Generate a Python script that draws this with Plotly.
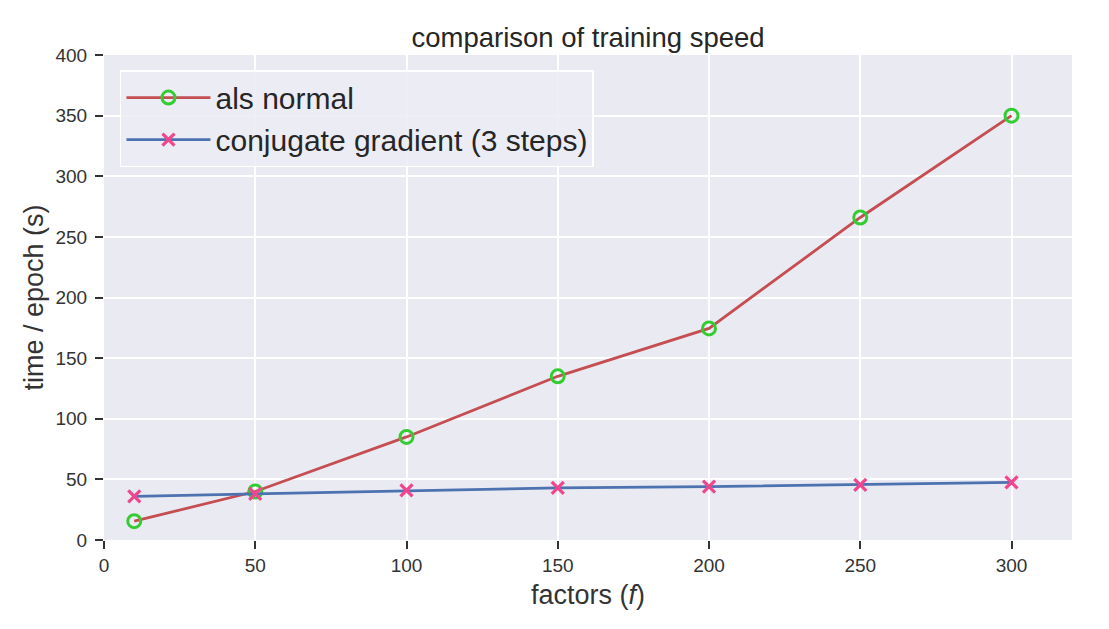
import plotly.graph_objects as go

factors = [10, 50, 100, 150, 200, 250, 300]
als_normal = [15.5, 40, 85, 135, 174.5, 266, 350]
conj_grad = [36, 38, 41, 43, 44, 45.5, 47.5]

x_ticks = [0, 50, 100, 150, 200, 250, 300]
y_ticks = [0, 50, 100, 150, 200, 250, 300, 350, 400]

FONT = "Arial, Liberation Sans, sans-serif"

fig = go.Figure()
fig.add_trace(go.Scatter(
    x=factors, y=als_normal, mode="lines+markers", name="als normal",
    line=dict(color="#C44E52", width=2.8),
    marker=dict(symbol="circle-open", size=13, color="#33CC33", line=dict(width=3, color="#33CC33")),
))
fig.add_trace(go.Scatter(
    x=factors, y=conj_grad, mode="lines+markers", name="conjugate gradient (3 steps)",
    line=dict(color="#4C72B0", width=2.8),
    marker=dict(symbol="x-thin", size=12, color="#F0468F", line=dict(width=3.2, color="#F0468F")),
))

axis_common = dict(
    showgrid=True, gridcolor="white", gridwidth=1.5, zeroline=False,
    ticks="outside", ticklen=8, tickwidth=1.8, tickcolor="#333333",
    tickfont=dict(family=FONT, size=19, color="#333333"),
    showline=False,
)
fig.update_xaxes(range=[0, 320], tickvals=x_ticks, **axis_common,
                 title=dict(text="factors (<i>f</i>)", font=dict(family=FONT, size=27, color="#333333"), standoff=10))
fig.update_yaxes(range=[0, 400], tickvals=y_ticks, **axis_common, ticklabelstandoff=4,
                 title=dict(text="time / epoch (s)", font=dict(family=FONT, size=27, color="#333333"), standoff=4))

fig.update_layout(
    width=1109, height=629,
    margin=dict(l=104, r=37, t=55, b=89),
    paper_bgcolor="white", plot_bgcolor="#EAEAF2",
    title=dict(text="comparison of training speed", x=0.5, xref="paper", xanchor="center", y=0.94, yanchor="middle",
               font=dict(family=FONT, size=27.5, color="#262626")),
    font=dict(family=FONT, color="#262626"),
    legend=dict(x=0.0165, y=0.969, xanchor="left", yanchor="top",
                bgcolor="rgba(236,236,244,0.9)", bordercolor="#FFFFFF", borderwidth=1.5,
                font=dict(size=30, color="#262626"), itemwidth=84, tracegroupgap=2),
    showlegend=True,
)

fig.write_html("out.html")
